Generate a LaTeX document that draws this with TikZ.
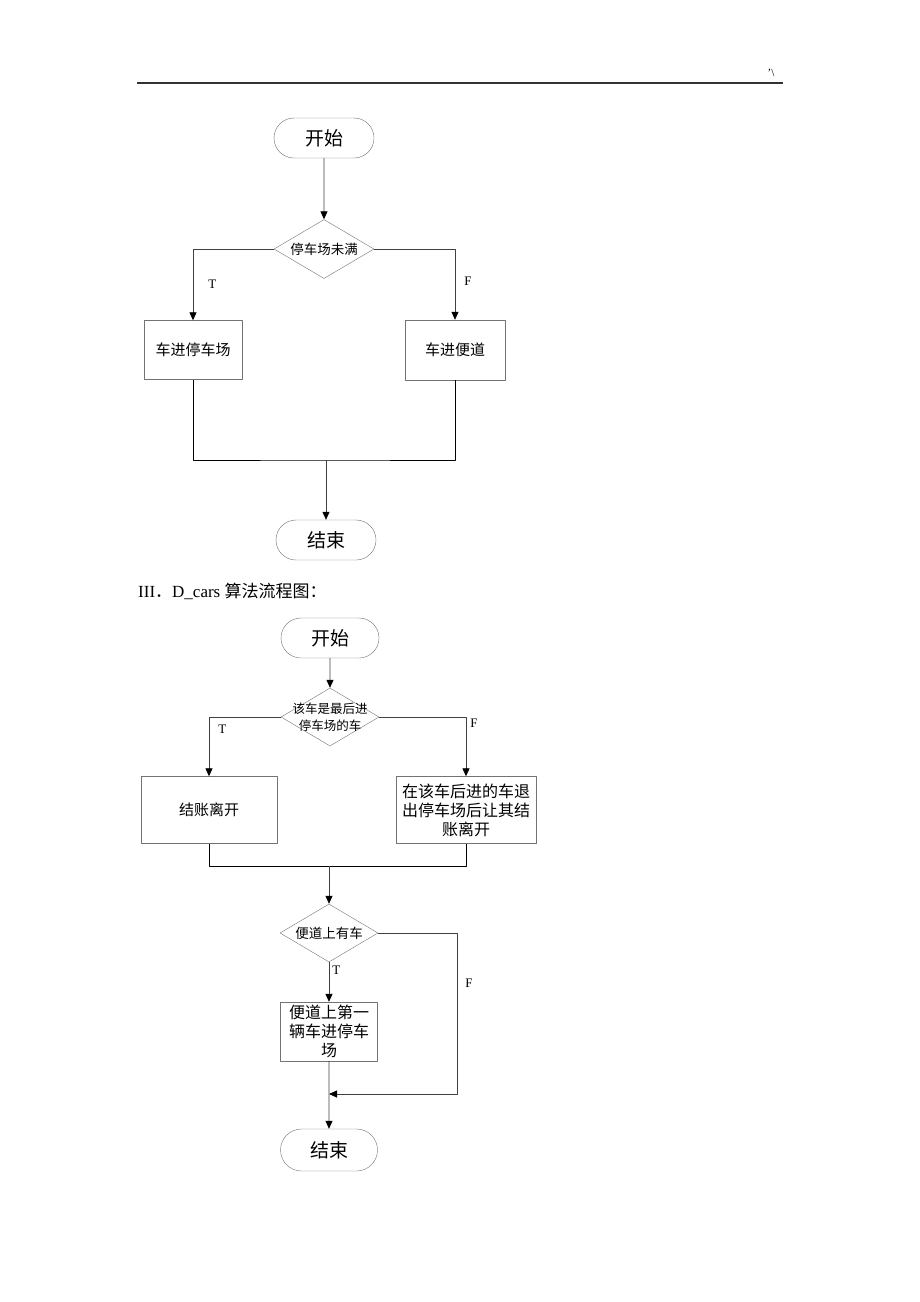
\documentclass[tikz,border=0pt]{standalone}
\usepackage{fontspec}
\setmainfont{Liberation Serif}
\newfontfamily\cjk{Noto Sans CJK SC}
\usetikzlibrary{arrows.meta,shapes.geometric,shapes.misc}

\begin{document}
\begin{tikzpicture}[x=1pt,y=-1pt,line join=round,
	>={Triangle[length=8pt,width=7pt,color=black]},
	term/.style={rounded rectangle,draw=black!55,inner sep=0pt,minimum width=100pt,minimum height=40pt,font=\cjk\fontsize{19}{23}\selectfont},
	proc/.style={rectangle,draw=black!55,inner sep=0pt,align=center,font=\cjk\fontsize{15}{19}\selectfont},
	decision/.style={diamond,draw=black!55,inner sep=0pt,minimum width=100pt,minimum height=59pt},
	dtext/.style={font=\cjk\fontsize{13.5}{17}\selectfont,align=center,inner sep=0pt},
	flow/.style={draw=black!75,line width=0.8pt},
	joint/.style={draw=black,line width=0.95pt},
	tf/.style={font=\fontsize{13}{13}\selectfont,inner sep=0pt}]
	\useasboundingbox (0,0) rectangle (920,1302);
	% page header
	\draw[black!80,line width=1.4pt] (137,83) -- (783,83);
	\node[font=\fontsize{11}{11}\selectfont,inner sep=0pt] (mark) at (771,73) {'\textbackslash};
	% first chart
	\node[term] (s1) at (324,138) {开始};
	\node[decision,label={[dtext]center:停车场未满}] (d1) at (324,249) {};
	\node[proc,minimum width=98pt,minimum height=59pt] (p1) at (193,350) {车进停车场};
	\node[proc,minimum width=100pt,minimum height=60pt] (p2) at (455,350) {车进便道};
	\coordinate (m1) at (326,460);
	\node[term] (e1) at (326,540) {结束};
	\draw[flow,->] (s1) -- (d1);
	\draw[flow,->] (d1.west) -| node[tf,pos=0.75,right=15pt] {T} (p1);
	\draw[flow,->] (d1.east) -| node[tf,pos=0.73,right=9pt] {F} (p2);
	\draw[joint] (p1.south) |- (m1) -| (p2.south);
	\draw[flow,->] (m1) -- (e1);
	% caption
	\node[anchor=west,inner sep=0pt,font=\fontsize{17}{20}\selectfont] (cap) at (138,591) {III{\cjk ．}D\_cars {\cjk 算法流程图：}};
	% second chart
	\node[term,minimum width=98pt] (s2) at (330,638) {开始};
	\node[decision,minimum width=98pt,minimum height=58pt,label={[dtext,font=\cjk\fontsize{12.5}{16.5}\selectfont]center:该车是最后进\\停车场的车}] (d2) at (330,717) {};
	\node[proc,minimum width=136pt,minimum height=67pt] (p3) at (209,810) {结账离开};
	\node[proc,minimum width=140pt,minimum height=67pt,font=\cjk\fontsize{16}{19}\selectfont] (p4) at (466,810) {在该车后进的车退\\出停车场后让其结\\账离开};
	\coordinate (m2) at (329,866);
	\node[decision,minimum width=98pt,minimum height=58pt,label={[dtext]center:便道上有车}] (d3) at (329,933) {};
	\node[proc,minimum width=97pt,minimum height=59pt,font=\cjk\fontsize{16}{19}\selectfont] (p5) at (329,1031.5) {便道上第一\\辆车进停车\\场};
	\coordinate (c3) at (457,1094);
	\coordinate (m3) at (329,1094);
	\node[term,minimum width=97pt,minimum height=42pt] (e2) at (329,1150) {结束};
	\draw[flow,->] (s2) -- (d2);
	\draw[flow,->] (d2.west) -| node[tf,pos=0.6,right=9pt] {T} (p3);
	\draw[flow,->] (d2.east) -| node[tf,pos=0.55,right=4pt] {F} (p4);
	\draw[joint] (p3.south) |- (m2) -| (p4.south);
	\draw[flow,->] (m2) -- (d3);
	\draw[flow,->] (d3) -- node[tf,pos=0.2,right=3pt] {T} (p5);
	\draw[flow,->] (d3.east) -| node[tf,pos=0.655,right=8pt] {F} (c3) -- (m3);
	\draw[flow,->] (p5) -- (e2);
\end{tikzpicture}
\end{document}
